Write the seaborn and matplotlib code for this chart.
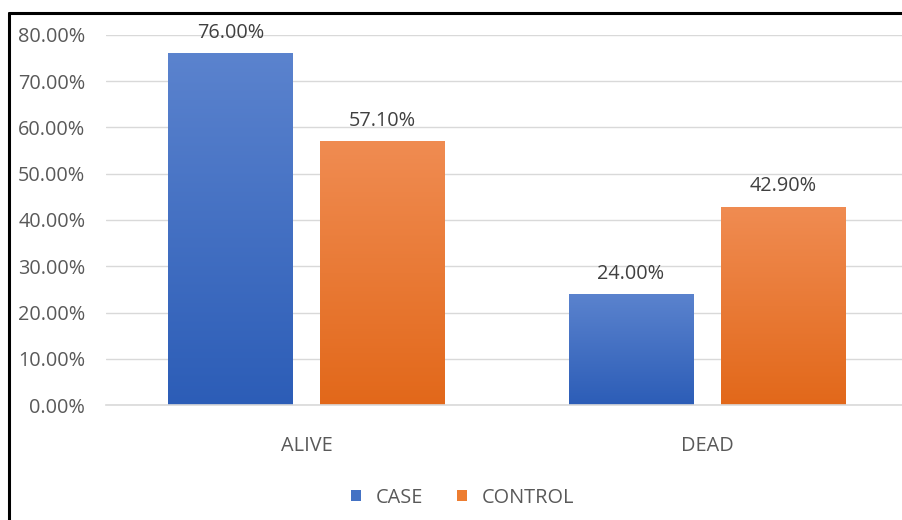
import numpy as np
import pandas as pd
import matplotlib
matplotlib.use("Agg")
import matplotlib.pyplot as plt
from matplotlib.colors import LinearSegmentedColormap
from matplotlib.lines import Line2D
from matplotlib.patches import Patch
import seaborn as sns

categories = ["ALIVE", "DEAD"]
series = ["CASE", "CONTROL"]
case_values = [76.00, 24.00]
control_values = [57.10, 42.90]
y_ticks = [0, 10, 20, 30, 40, 50, 60, 70, 80]

df = pd.DataFrame({
    "status": categories * 2,
    "group": [series[0]] * 2 + [series[1]] * 2,
    "value": case_values + control_values,
})

sns.set_theme(style="white")
plt.rcParams["font.family"] = ["Open Sans", "DejaVu Sans"]
text_color = "#595959"
fs = 14.3

base_colors = {"CASE": "#4472C4", "CONTROL": "#ED7D31"}
grad = {
    "CASE": LinearSegmentedColormap.from_list("case", ["#2C5DB7", "#5B83CE"]),
    "CONTROL": LinearSegmentedColormap.from_list("ctrl", ["#E2681A", "#F08C52"]),
}

fig = plt.figure(figsize=(9.03, 5.20), dpi=100)
ax = fig.add_axes([0.1175, 0.221, 0.8875, 0.712])

sns.barplot(data=df, x="status", y="value", hue="group", order=categories,
            hue_order=series, palette=base_colors, width=0.76, gap=0.18,
            ax=ax, legend=False, errorbar=None)

ax.set_ylim(0, 80)
ax.set_xlim(-0.5, 1.5)
ax.set_yticks(y_ticks)
ax.set_yticklabels([f"{v:.2f}%" for v in y_ticks])
ax.set_xlabel("")
ax.set_ylabel("")
for s in ["top", "right", "left"]:
    ax.spines[s].set_visible(False)
ax.spines["bottom"].set_color("#D9D9D9")
ax.spines["bottom"].set_linewidth(1.2)
ax.yaxis.grid(True, color="#D9D9D9", linewidth=1.0)
ax.set_axisbelow(True)
ax.tick_params(axis="both", length=0, labelsize=fs, colors=text_color)
ax.tick_params(axis="y", pad=15)
ax.tick_params(axis="x", pad=22)

# vertical gradient fill for each bar, clipped to its rectangle
gradient = np.linspace(0, 1, 256).reshape(-1, 1)
for container, name in zip(ax.containers, series):
    for bar, val in zip(container, df[df["group"] == name]["value"]):
        x0, y0 = bar.get_x(), bar.get_y()
        w, h = bar.get_width(), bar.get_height()
        bar.set_facecolor("none")
        bar.set_edgecolor("none")
        img = ax.imshow(gradient, cmap=grad[name], aspect="auto", origin="lower",
                        extent=[x0, x0 + w, y0, y0 + h], zorder=2)
        img.set_clip_path(bar)
        ax.text(x0 + w / 2, y0 + h + 2.2, f"{val:.2f}%", ha="center", va="bottom",
                fontsize=fs, color="#404040")

handles = [Patch(facecolor=base_colors[s], edgecolor="none") for s in series]
fig.legend(handles, series, loc="center", bbox_to_anchor=(0.512, 0.043), ncol=2,
           frameon=False, fontsize=fs, handlelength=0.5, handleheight=0.5,
           columnspacing=1.7, handletextpad=0.75, labelcolor=text_color)

# frame lines along the top and left edge
fig.add_artist(Line2D([0.0105, 1.0], [0.975, 0.975], color="black", linewidth=2.2,
                      transform=fig.transFigure))
fig.add_artist(Line2D([0.0105, 0.0105], [0.0, 0.975], color="black", linewidth=2.2,
                      transform=fig.transFigure))

fig.savefig("out.png", dpi=100)
